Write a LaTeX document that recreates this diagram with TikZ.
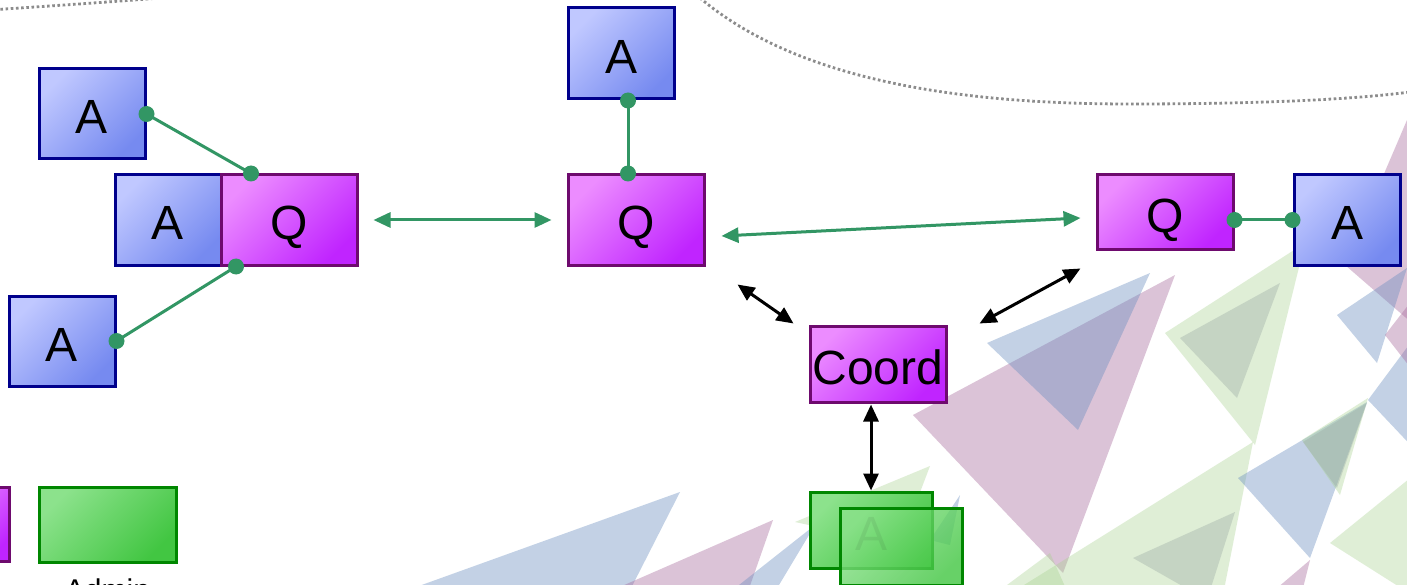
\documentclass[tikz,border=0pt]{standalone}
\usepackage{fontspec}
\setmainfont{Liberation Sans}
\usetikzlibrary{arrows.meta,calc}
\definecolor{bLight}{RGB}{192,200,255}
\definecolor{bDark}{RGB}{118,138,240}
\definecolor{bLine}{RGB}{0,0,140}
\definecolor{pLight}{RGB}{236,140,255}
\definecolor{pDark}{RGB}{192,36,255}
\definecolor{pLine}{RGB}{110,10,110}
\definecolor{gLight}{RGB}{140,226,140}
\definecolor{gDark}{RGB}{66,198,66}
\definecolor{gLine}{RGB}{0,135,0}
\definecolor{conn}{RGB}{50,150,100}
\definecolor{dotc}{RGB}{140,140,140}
\definecolor{triB}{RGB}{105,142,192}
\definecolor{triP}{RGB}{167,105,155}
\definecolor{triG}{RGB}{167,210,142}
\definecolor{triK}{RGB}{150,165,160}
\tikzset{
  basebox/.style={line width=3pt, inner sep=0pt, shading=axis, font=\fontsize{48}{50}\selectfont, text height=40pt, text depth=0pt},
  boxA/.style={basebox, draw=bLine, top color=bLight, bottom color=bDark, shading angle=45, minimum width=106pt, minimum height=90pt},
  boxQ/.style={basebox, draw=pLine, top color=pLight, bottom color=pDark, shading angle=45, minimum width=136pt, minimum height=90pt},
  boxG/.style={basebox, draw=gLine, top color=gLight, bottom color=gDark, shading angle=45},
  link/.style={draw=conn, line width=3pt},
  dotpt/.style={fill=conn, circle, inner sep=0pt, minimum size=16pt},
  garrow/.style={draw=conn, line width=3pt, {Triangle[length=17pt,width=15pt]}-{Triangle[length=17pt,width=15pt]}},
  karrow/.style={draw=black, line width=3pt, {Triangle[length=17pt,width=15pt]}-{Triangle[length=17pt,width=15pt]}},
  dottedline/.style={draw=dotc, line width=2.8pt, dash pattern=on 2.6pt off 2.6pt},
  bgB/.style={fill=triB, fill opacity=0.4},
  bgP/.style={fill=triP, fill opacity=0.4},
  bgG/.style={fill=triG, fill opacity=0.36},
  bgK/.style={fill=triK, fill opacity=0.35},
}
\begin{document}
\begin{tikzpicture}[x=1pt,y=-1pt]
\useasboundingbox (0,0) rectangle (1407,585);
\clip (0,0) rectangle (1407,585);
\fill[white] (0,0) rectangle (1407,585);
% background triangles
\fill[bgB] (380,600) -- (680,492) -- (625,600) -- cycle;
\fill[bgP] (590,600) -- (773,520) -- (745,600) -- cycle;
\fill[bgB] (720,600) -- (815,525) -- (770,600) -- cycle;
\fill[bgG] (795,522) -- (930,466) -- (900,545) -- cycle;
\fill[bgB] (930,540) -- (960,495) -- (950,545) -- cycle;
\fill[bgP] (913,415) -- (1175,275) -- (1063,573) -- cycle;
\fill[bgB] (987,343) -- (1150,273) -- (1078,430) -- cycle;
\fill[bgG] (1165,333) -- (1305,243) -- (1255,445) -- cycle;
\fill[bgK] (1180,338) -- (1280,283) -- (1237,398) -- cycle;
\fill[bgG] (1000,600) -- (1253,442) -- (1222,600) -- cycle;
\fill[bgG] (960,620) -- (1050,553) -- (1080,620) -- cycle;
\fill[bgK] (1133,558) -- (1235,512) -- (1207,600) -- cycle;
\fill[bgB] (1238,478) -- (1367,402) -- (1310,558) -- cycle;
\fill[bgG] (1302,440) -- (1368,398) -- (1340,495) -- cycle;
\fill[bgK] (1303,442) -- (1367,403) -- (1337,488) -- cycle;
\fill[bgP] (1263,600) -- (1310,560) -- (1300,600) -- cycle;
\fill[bgG] (1330,543) -- (1420,470) -- (1420,600) -- cycle;
\fill[bgB] (1368,400) -- (1420,330) -- (1420,455) -- cycle;
\fill[bgP] (1345,265) -- (1407,120) -- (1420,330) -- cycle;
\fill[bgB] (1337,315) -- (1407,268) -- (1377,363) -- cycle;
\fill[bgP] (1385,335) -- (1420,290) -- (1420,380) -- cycle;
% dotted curves
\draw[dottedline] (-10,10) .. controls (50,6) and (110,2) .. (160,-2);
\draw[dottedline] (700,-2) .. controls (795,78) and (950,104) .. (1130,104) .. controls (1250,104) and (1350,100) .. (1410,92);
% nodes
\node[boxA] (A1) at (92,114) {A};
\node[boxA] (A2) at (168,220) {A};
\node[boxQ] (Q1) at (289,220) {Q};
\node[boxA] (A3) at (62,341) {A};
\node[boxA, minimum height=91pt] (At) at (621,53.5) {A};
\node[boxQ] (Qm) at (636,220) {Q};
\node[boxQ, minimum height=75pt] (Qr) at (1165,212.5) {Q};
\node[boxA] (Ar) at (1347,220) {A};
\node[boxQ, minimum height=76pt] (Coord) at (878,364) {Coord};
\node[boxQ, minimum width=78pt, minimum height=74pt] (Pl) at (-30,524) {};
\node[boxG, minimum width=137pt, minimum height=75pt] (Gl) at (107.5,524.5) {};
\node[anchor=base, font=\fontsize{30}{32}\selectfont] (Adm) at (107.5,600) {Admin};
\node[boxG, text opacity=0.35, minimum width=122pt, minimum height=76pt] (G1) at (871,530) {A};
\node[boxG, fill opacity=0.8, minimum width=122pt, minimum height=77pt] (G2) at (901,546.5) {};
% green links with dots
\coordinate (a1e) at (A1.east);
\coordinate (q1n) at ($(Q1.north)+(-38,0)$);
\coordinate (q1s) at ($(Q1.south)+(-53,0)$);
\coordinate (a3e) at (A3.east);
\coordinate (ats) at ($(At.south)+(7,0)$);
\coordinate (qmn) at ($(Qm.north)+(-8,0)$);
\coordinate (qre) at ($(Qr.east)+(0,7.5)$);
\coordinate (arw) at (Ar.west);
\draw[link] (a1e) -- (q1n);
\draw[link] (q1s) -- (a3e);
\draw[link] (ats) -- (qmn);
\draw[link] (qre) -- (arw);
\foreach \p in {a1e,q1n,q1s,a3e,ats,qmn,qre,arw} \node[dotpt] at (\p) {};
% arrows
\coordinate (g1s) at ($(Q1.east)+(15,0)$);
\coordinate (g1e) at ($(Qm.west)+(-15,0)$);
\draw[garrow] (g1s) -- (g1e);
\coordinate (g2s) at ($(Qm.east)+(16,16)$);
\coordinate (g2e) at ($(Qr.west)+(-15,5.5)$);
\draw[garrow] (g2s) -- (g2e);
\coordinate (k1s) at ($(Qm.south east)+(32,18)$);
\coordinate (k1e) at ($(Coord.north west)+(-15,-1)$);
\draw[karrow] (k1s) -- (k1e);
\coordinate (k2s) at ($(Coord.north east)+(32,-1)$);
\coordinate (k2e) at ($(Qr.south west)+(-15,17)$);
\draw[karrow] (k2s) -- (k2e);
\coordinate (k3s) at ($(Coord.south)+(-7,1)$);
\coordinate (k3e) at (G1.north);
\draw[karrow] (k3s) -- (k3e);
\end{tikzpicture}
\end{document}
